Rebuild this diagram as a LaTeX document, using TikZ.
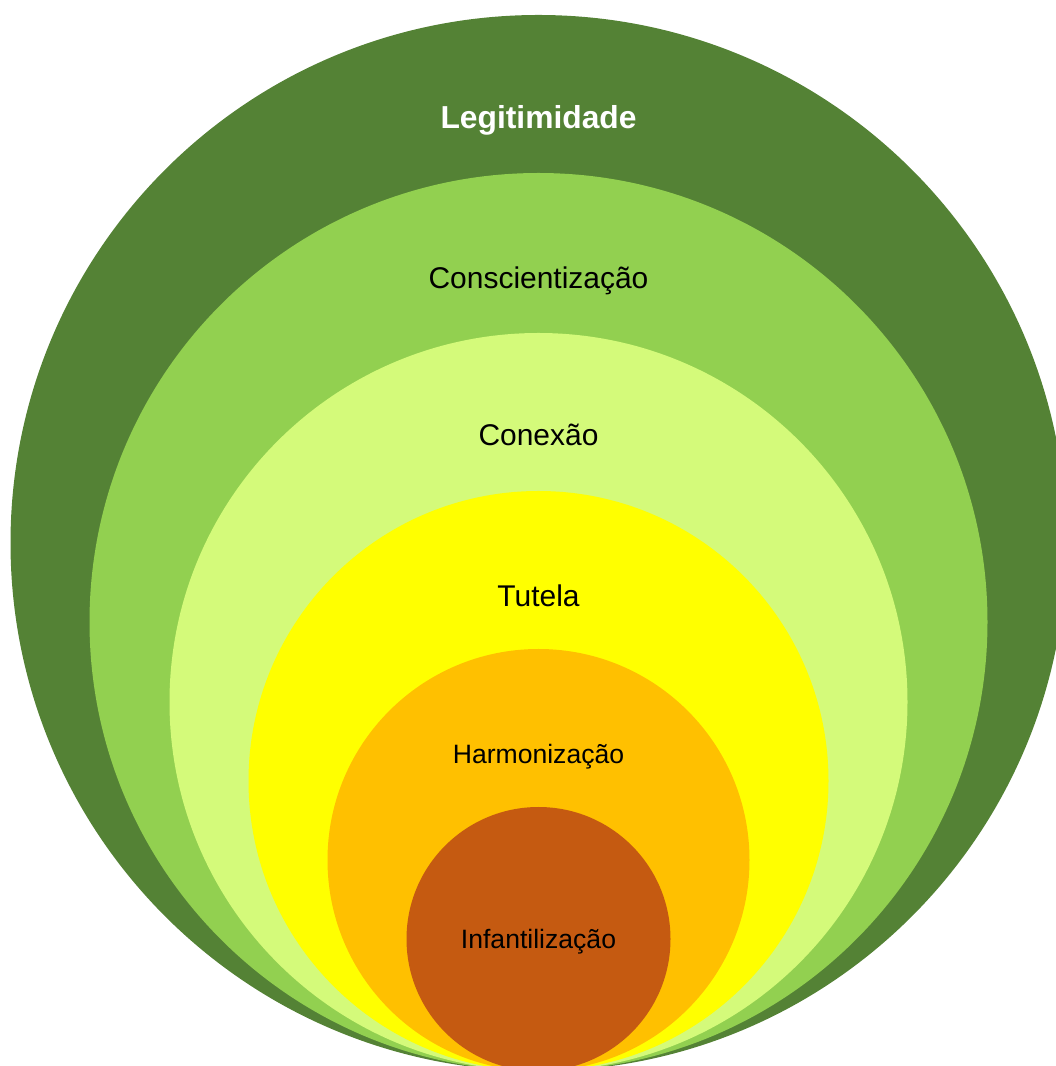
\documentclass[tikz,border=0pt]{standalone}
\usepackage{fontspec}
\setmainfont{Liberation Sans}

\definecolor{legit}{HTML}{548235}
\definecolor{consc}{HTML}{92D050}
\definecolor{conex}{HTML}{D4FA7A}
\definecolor{tutel}{HTML}{FFFF00}
\definecolor{harmo}{HTML}{FFC000}
\definecolor{infan}{HTML}{C55A11}

\begin{document}
\begin{tikzpicture}[x=0.025cm,y=0.025cm]

\tikzset{label big/.style = {anchor=base, font=\fontsize{21.3}{25}\selectfont}}
\tikzset{label small/.style = {anchor=base, font=\fontsize{18.9}{22}\selectfont}}

\useasboundingbox (0,0) rectangle (1056,1066);
\clip (0,0) rectangle (1056,1066);

%circles, all touching at the bottom
\fill[legit] (538.5,523) circle (528);
\fill[consc] (538.5,444) circle (449);
\fill[conex] (538.5,364) circle (369);
\fill[tutel] (538.5,285) circle (290);
\fill[harmo] (538.5,206) circle (211);
\fill[infan] (538.5,127) circle (132);

%labels
\node[label big, text=white, font=\fontsize{22.6}{26}\selectfont\bfseries] (legitimidade) at (538.5,937) {Legitimidade};
\node[label big] (conscientizacao) at (538.5,777) {Conscientização};
\node[label big] (conexao) at (538.5,620) {Conexão};
\node[label big] (tutela) at (538.5,459) {Tutela};
\node[label small] (harmonizacao) at (538.5,302) {Harmonização};
\node[label small] (infantilizacao) at (538.5,117) {Infantilização};

\end{tikzpicture}
\end{document}
